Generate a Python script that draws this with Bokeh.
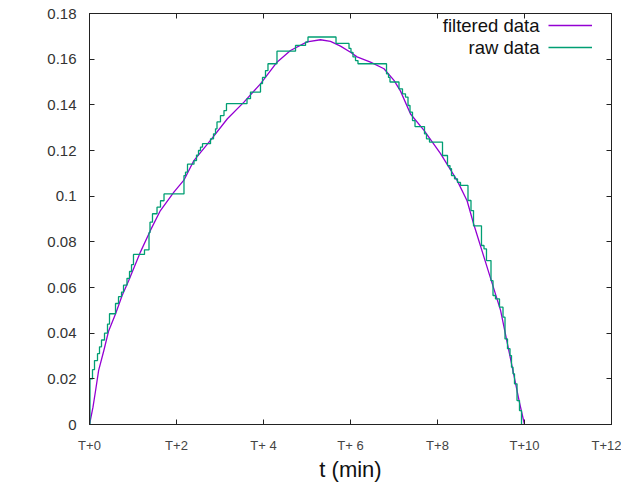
from bokeh.plotting import figure
from bokeh.models import Range1d, LinearAxis, Label, Legend, LegendItem, FixedTicker
from bokeh.embed import file_html
from bokeh.resources import INLINE

# ---- data ----
filt_t = [0, 0.08, 0.14, 0.21, 0.33, 0.44, 0.6, 0.75, 0.9, 1.17, 1.40, 1.63, 1.94, 2.17,
          2.40, 2.78, 3.17, 3.55, 3.93, 4.31, 4.62, 5.0, 5.31, 5.54, 5.77, 6.0, 6.15, 6.46,
          6.77, 7.0, 7.15, 7.38, 7.69, 8.07, 8.45, 8.68, 8.83, 9.14, 9.45, 9.75, 9.88, 10.0]
filt_F = [0, 0.0076, 0.0149, 0.0237, 0.0324, 0.041, 0.0485, 0.0565, 0.063, 0.0755, 0.085,
          0.0937, 0.1018, 0.107, 0.1156, 0.1244, 0.1339, 0.1412, 0.1492, 0.1587, 0.1638,
          0.1676, 0.1685, 0.1678, 0.1657, 0.163, 0.161, 0.1587, 0.1558, 0.1507, 0.146,
          0.136, 0.1288, 0.1186, 0.1069, 0.098, 0.0879, 0.0689, 0.05, 0.0222, 0.010, 0.0]

raw_t = [0.000, 0.011, 0.069, 0.115, 0.184, 0.230, 0.276, 0.345, 0.414, 0.460, 0.598,
         0.667, 0.736, 0.782, 0.862, 0.920, 0.966, 1.011, 1.264, 1.368, 1.391, 1.448,
         1.552, 1.632, 1.713, 2.172, 2.207, 2.253, 2.402, 2.460, 2.506, 2.552, 2.598,
         2.782, 2.851, 2.897, 2.931, 3.011, 3.092, 3.149, 3.621, 3.701, 3.931, 3.977,
         4.046, 4.103, 4.310, 4.736, 4.966, 5.023, 5.667, 5.966, 6.011, 6.057, 6.115,
         6.172, 6.828, 6.874, 6.908, 7.115, 7.195, 7.264, 7.322, 7.368, 7.425, 7.483,
         7.701, 7.747, 7.816, 8.115, 8.230, 8.287, 8.322, 8.391, 8.460, 8.529, 8.701,
         8.770, 8.828, 9.011, 9.069, 9.126, 9.230, 9.276, 9.333, 9.425, 9.506, 9.552,
         9.609, 9.667, 9.701, 9.736, 9.770, 9.828, 9.885, 9.931]
raw_F = [0.000, 0.020, 0.024, 0.028, 0.031, 0.034, 0.037, 0.040, 0.044, 0.0485, 0.053,
         0.056, 0.058, 0.061, 0.064, 0.067, 0.070, 0.0745, 0.0765, 0.084, 0.0886, 0.0923,
         0.0952, 0.098, 0.101, 0.109, 0.1105, 0.114, 0.1156, 0.118, 0.120, 0.1215, 0.123,
         0.1251, 0.1273, 0.1295, 0.1325, 0.1353, 0.1375, 0.1405, 0.1427, 0.1456, 0.1493,
         0.152, 0.155, 0.158, 0.1635, 0.166, 0.1675, 0.1697, 0.1669, 0.1647, 0.163, 0.161,
         0.1594, 0.158, 0.1536, 0.152, 0.150, 0.147, 0.1448, 0.1434, 0.1397, 0.1368,
         0.1331, 0.1305, 0.1273, 0.1251, 0.1237, 0.1178, 0.1134, 0.112, 0.109, 0.1076,
         0.106, 0.1047, 0.0981, 0.0937, 0.0870, 0.0784, 0.0769, 0.0718, 0.063, 0.0565,
         0.055, 0.0514, 0.047, 0.0375, 0.0332, 0.0302, 0.0251, 0.0222, 0.0178, 0.0105,
         0.0061, 0.0]

x_ticks = [0, 2, 4, 6, 8, 10, 12]
x_tick_labels = ["T+0", "T+2", "T+ 4", "T+ 6", "T+8", "T+10", "T+12"]
y_ticks = [0, 0.02, 0.04, 0.06, 0.08, 0.1, 0.12, 0.14, 0.16, 0.18]
y_tick_labels = ["0", "0.02", "0.04", "0.06", "0.08", "0.1", "0.12", "0.14", "0.16", "0.18"]
series_names = ["filtered data", "raw data"]

FONT = "Liberation Sans"
PURPLE = "#9400d3"
GREEN = "#009e73"

p = figure(width=621, height=487, output_backend="svg", toolbar_location=None,
           x_range=Range1d(0, 12), y_range=Range1d(0, 0.18),
           min_border_left=89, min_border_right=10, min_border_top=13, min_border_bottom=63)
p.xgrid.visible = False
p.ygrid.visible = False
p.outline_line_color = "#222222"
p.outline_line_width = 1
p.background_fill_color = "white"
p.border_fill_color = "white"

r_f = p.line(filt_t, filt_F, line_color=PURPLE, line_width=1.3)
r_r = p.step(raw_t, raw_F, mode="after", line_color=GREEN, line_width=1.3)

# main axes
xa = p.xaxis[0]
xa.ticker = FixedTicker(ticks=x_ticks)
xa.major_label_overrides = {t: l for t, l in zip(x_ticks, x_tick_labels)}
ya = p.yaxis[0]
ya.ticker = FixedTicker(ticks=y_ticks)
ya.major_label_overrides = {t: l for t, l in zip(y_ticks, y_tick_labels)}
for ax in (xa, ya):
    ax.major_tick_in = 5
    ax.major_tick_out = 0
    ax.minor_tick_line_color = None
    ax.axis_line_color = "#222222"
    ax.major_tick_line_color = "#222222"
    ax.major_label_text_font = FONT
xa.major_label_text_font_size = "13px"
xa.major_label_text_color = "#444444"
xa.major_label_standoff = 13
ya.major_label_text_font_size = "15px"
ya.major_label_text_color = "#333333"
ya.major_label_standoff = 13
xa.axis_label = "t (min)"
xa.axis_label_text_font = FONT
xa.axis_label_text_font_size = "22px"
xa.axis_label_text_font_style = "normal"
xa.axis_label_text_color = "#111111"
xa.axis_label_standoff = 1

# mirrored tick axes (ticks only, no labels)
ta = LinearAxis(ticker=FixedTicker(ticks=x_ticks))
ra = LinearAxis(ticker=FixedTicker(ticks=y_ticks))
for ax in (ta, ra):
    ax.major_tick_in = 5
    ax.major_tick_out = 0
    ax.minor_tick_line_color = None
    ax.axis_line_color = "#222222"
    ax.major_tick_line_color = "#222222"
    ax.major_label_text_font_size = "1px"
    ax.major_label_text_alpha = 0
    ax.major_label_standoff = 0
ta.major_label_overrides = {t: "" for t in x_ticks}
ra.major_label_overrides = {t: "" for t in y_ticks}
p.add_layout(ta, "above")
p.add_layout(ra, "right")

# y axis label (horizontal)
p.add_layout(Label(x=-1.586, y=0.1003, text="F", text_font=FONT, text_font_size="22px",
                   text_align="center", text_baseline="middle", text_color="#111111"))

# legend: text on the left, line sample on the right
legend = Legend(items=[LegendItem(label="", renderers=[r_f]),
                       LegendItem(label="", renderers=[r_r])],
                location=(459, 366), label_text_font_size="1px", label_width=0,
                label_standoff=0, glyph_width=44, glyph_height=22, spacing=0, padding=0,
                margin=0, border_line_color=None, background_fill_alpha=0)
p.add_layout(legend)
p.add_layout(Label(x=10.345, y=0.1748, text=series_names[0], text_font=FONT,
                   text_font_size="18.5px", text_align="right", text_baseline="middle",
                   text_color="#111111"))
p.add_layout(Label(x=10.345, y=0.1651, text=series_names[1], text_font=FONT,
                   text_font_size="18.5px", text_align="right", text_baseline="middle",
                   text_color="#111111"))

open("out.html", "w").write(file_html(p, INLINE))
